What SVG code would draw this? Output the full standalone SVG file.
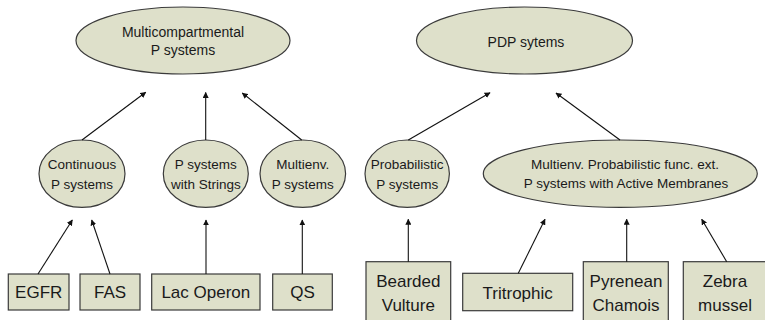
<svg xmlns="http://www.w3.org/2000/svg" width="765" height="320" viewBox="0 0 765 320">
<defs>
<style>
.n{fill:#dee0ca;stroke:#3a3a3a;stroke-width:1.2}
.t{font-family:"Liberation Sans",Arial,sans-serif;fill:#1a1a1a;text-anchor:middle}
.e1{font-size:14px}
.e2{font-size:13.5px}
.b{font-size:17px}
.c line{stroke:#111;stroke-width:1.1;marker-end:url(#ah)}
</style>
<marker id="ah" viewBox="0 0 10 10" refX="9" refY="5" markerWidth="6" markerHeight="6" markerUnits="userSpaceOnUse" orient="auto">
<path d="M0,0 L10,5 L0,10 z" fill="#111"/>
</marker>
</defs>
<rect width="765" height="320" fill="#fff"/>
<g id="multicompartmental"><ellipse class="n" cx="183" cy="40.5" rx="107" ry="33.5"/><text class="t e1" x="183" y="37.3">Multicompartmental</text><text class="t e1" x="183" y="55">P systems</text></g>
<g id="pdp"><ellipse class="n" cx="524.5" cy="40.5" rx="108" ry="33.5"/><text class="t e1" x="526" y="46.7">PDP sytems</text></g>
<g id="continuous"><ellipse class="n" cx="82" cy="173.7" rx="43" ry="33.7"/><text class="t e2" x="82" y="169.3">Continuous</text><text class="t e2" x="82" y="188.5">P systems</text></g>
<g id="strings"><ellipse class="n" cx="205.8" cy="173.7" rx="42.5" ry="33.7"/><text class="t e2" x="205.8" y="169.3">P systems</text><text class="t e2" x="205.8" y="188.5">with Strings</text></g>
<g id="multienv"><ellipse class="n" cx="302.8" cy="173.7" rx="42.8" ry="33.7"/><text class="t e2" x="302.8" y="169.3">Multienv.</text><text class="t e2" x="302.8" y="188.5">P systems</text></g>
<g id="probabilistic"><ellipse class="n" cx="407.2" cy="173.7" rx="42.2" ry="33.7"/><text class="t e2" x="407.2" y="169.3">Probabilistic</text><text class="t e2" x="407.2" y="188.5">P systems</text></g>
<g id="mpfext"><ellipse class="n" cx="620.3" cy="173.7" rx="137" ry="33.7"/><text class="t e2" x="625" y="169">Multienv. Probabilistic func. ext.</text><text class="t e2" x="626" y="188">P systems with Active Membranes</text></g>
<g id="egfr"><rect class="n" x="8.3" y="274" width="60.7" height="36"/><text class="t b" x="38.7" y="298.3">EGFR</text></g>
<g id="fas"><rect class="n" x="80" y="274" width="60" height="36"/><text class="t b" x="110" y="298.3">FAS</text></g>
<g id="lac"><rect class="n" x="151.7" y="274" width="108.3" height="36"/><text class="t b" x="205.8" y="298.3">Lac Operon</text></g>
<g id="qs"><rect class="n" x="272.7" y="274" width="59.6" height="36"/><text class="t b" x="302.5" y="298.3">QS</text></g>
<g id="bearded"><rect class="n" x="366" y="261.7" width="84.7" height="64"/><text class="t b" x="408.3" y="286.7">Bearded</text><text class="t b" x="408.3" y="310.7">Vulture</text></g>
<g id="tritrophic"><rect class="n" x="462.7" y="273.3" width="110" height="37.4"/><text class="t b" x="517.7" y="299.3">Tritrophic</text></g>
<g id="chamois"><rect class="n" x="583.3" y="261.7" width="85" height="64"/><text class="t b" x="626" y="286.7">Pyrenean</text><text class="t b" x="626" y="310.7">Chamois</text></g>
<g id="zebra"><rect class="n" x="683.3" y="261.7" width="84" height="64"/><text class="t b" x="725" y="286.7">Zebra</text><text class="t b" x="725" y="310.7">mussel</text></g>
<g id="connectors" class="c">
<line x1="82" y1="140" x2="145.7" y2="92.3"/>
<line x1="205.7" y1="140" x2="205.7" y2="92.5"/>
<line x1="301.7" y1="140" x2="242.3" y2="93"/>
<line x1="408.3" y1="140" x2="490" y2="92.7"/>
<line x1="620" y1="140" x2="556" y2="93"/>
<line x1="38" y1="274" x2="72.3" y2="220"/>
<line x1="110" y1="274" x2="91.7" y2="220"/>
<line x1="206" y1="274" x2="206" y2="220"/>
<line x1="302.3" y1="274" x2="302.3" y2="220"/>
<line x1="408.3" y1="261.7" x2="408.3" y2="219.3"/>
<line x1="518.3" y1="273.3" x2="545" y2="219.3"/>
<line x1="626.7" y1="261.7" x2="626.7" y2="219.3"/>
<line x1="726.7" y1="261.7" x2="701.7" y2="219.3"/>
</g>
</svg>
